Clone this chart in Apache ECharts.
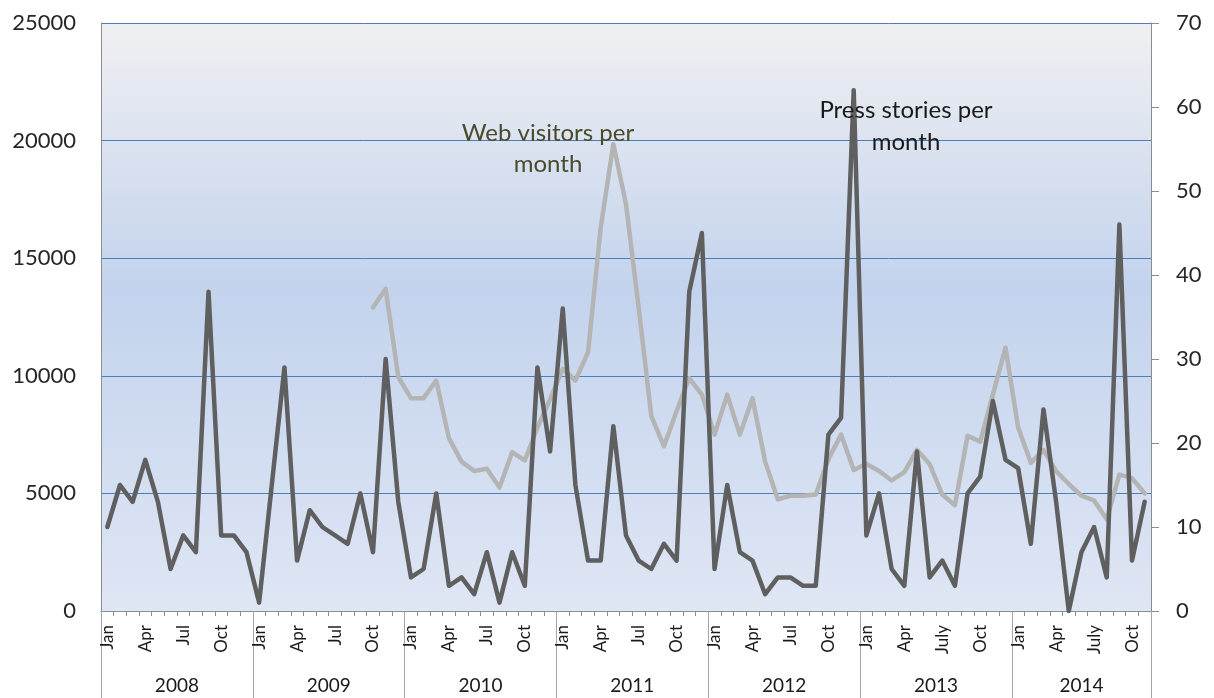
<!DOCTYPE html>
<html>
<head>
<meta charset="utf-8">
<script src="https://cdn.jsdelivr.net/npm/echarts@6/dist/echarts.min.js"></script>
<style>
html,body{margin:0;padding:0;background:#fff;}
#chart{width:1214px;height:698px;}
</style>
</head>
<body>
<div id="chart"></div>
<script>
// ---- Data ----
const years = ['2008', '2009', '2010', '2011', '2012', '2013', '2014'];
const monthsPerYear = [12, 12, 12, 12, 12, 12, 11];
const monthNames = ['Jan','Feb','Mar','Apr','May','Jun','Jul','Aug','Sep','Oct','Nov','Dec'];
const tickLabelsStd = ['Jan','','','Apr','','','Jul','','','Oct','',''];
const tickLabelsLate = ['Jan','','','Apr','','','July','','','Oct','',''];
const yearTickStyle = ['std','std','std','std','std','late','late'];

// Press stories per month (right axis), Jan 2008 - Nov 2014
const press2008 = [10, 15, 13, 18, 13, 5, 9, 7, 38, 9, 9, 7];
const press2009 = [1, 15, 29, 6, 12, 10, 9, 8, 14, 7, 30, 13];
const press2010 = [4, 5, 14, 3, 4, 2, 7, 1, 7, 3, 29, 19];
const press2011 = [36, 15, 6, 6, 22, 9, 6, 5, 8, 6, 38, 45];
const press2012 = [5, 15, 7, 6, 2, 4, 4, 3, 3, 21, 23, 62];
const press2013 = [9, 14, 5, 3, 19, 4, 6, 3, 14, 16, 25, 18];
const press2014 = [17, 8, 24, 13, 0, 7, 10, 4, 46, 6, 13];

// Web visitors per month (left axis); no data before Oct 2009
const web2008 = [null, null, null, null, null, null, null, null, null, null, null, null];
const web2009 = [null, null, null, null, null, null, null, null, null, 12900, 13700, 9950];
const web2010 = [9050, 9050, 9800, 7350, 6350, 5950, 6050, 5250, 6750, 6400, 7800, 9000];
const web2011 = [10300, 9800, 11000, 16300, 19850, 17300, 12900, 8300, 7000, 8500, 9900, 9200];
const web2012 = [7500, 9200, 7500, 9050, 6350, 4750, 4900, 4900, 4950, 6450, 7500, 6000];
const web2013 = [6250, 5950, 5550, 5900, 6850, 6250, 4950, 4500, 7450, 7200, 9200, 11200];
const web2014 = [7800, 6300, 6850, 5950, 5400, 4900, 4700, 3900, 5800, 5650, 5000];

const leftAxis = {min: 0, max: 25000, interval: 5000};
const rightAxis = {min: 0, max: 70, interval: 10};

const seriesNames = ['Web visitors per month', 'Press stories per month'];
const annotationWeb = 'Web visitors per\nmonth';
const annotationPress = 'Press stories per\nmonth';

// ---- Build ----
const pressData = [].concat(press2008, press2009, press2010, press2011, press2012, press2013, press2014);
const webData = [].concat(web2008, web2009, web2010, web2011, web2012, web2013, web2014);

const monthCats = [];
const monthTickLabels = [];
years.forEach((y, yi) => {
  const lab = yearTickStyle[yi] === 'late' ? tickLabelsLate : tickLabelsStd;
  for (let m = 0; m < monthsPerYear[yi]; m++) {
    monthCats.push(monthNames[m] + ' ' + y);
    monthTickLabels.push(lab[m]);
  }
});
const nMonths = monthCats.length;

// half-month boundary axis for year group labels and separators
const halfCats = [];
const halfLabels = [];
const yearBoundaries = new Set();
let start = 0;
years.forEach((y, yi) => {
  yearBoundaries.add(start * 2);
  const mid = start * 2 + monthsPerYear[yi];
  start += monthsPerYear[yi];
  halfLabels[mid] = y;
});
yearBoundaries.add(nMonths * 2);
for (let i = 0; i <= nMonths * 2; i++) {
  halfCats.push('h' + i);
  if (!halfLabels[i]) halfLabels[i] = '';
}

const FONT = 'Lato, "Open Sans", sans-serif';
const chart = echarts.init(document.getElementById('chart'), null, {renderer: 'canvas'});

const bg = new echarts.graphic.LinearGradient(0, 0, 0, 1, [
  {offset: 0, color: '#f0f0f2'},
  {offset: 0.45, color: '#c3d3ed'},
  {offset: 1, color: '#dfe6f4'}
]);

chart.setOption({
  animation: false,
  backgroundColor: '#ffffff',
  textStyle: {fontFamily: FONT},
  grid: {left: 101, right: 63, top: 23, bottom: 87, show: true, backgroundColor: bg, borderWidth: 0},
  xAxis: [
    {
      type: 'category',
      data: monthCats,
      boundaryGap: true,
      position: 'bottom',
      axisLine: {show: true, lineStyle: {color: '#8c8c8c', width: 1}},
      axisTick: {show: true, interval: 0, length: 5, lineStyle: {color: '#8c8c8c'}},
      axisLabel: {
        interval: (idx) => monthTickLabels[idx] !== '',
        formatter: (v, idx) => monthTickLabels[idx],
        rotate: 90,
        margin: 14,
        fontSize: 17,
        color: '#1a1a1a',
        fontFamily: FONT
      },
      splitLine: {show: false}
    },
    {
      type: 'category',
      data: halfCats,
      boundaryGap: false,
      position: 'bottom',
      axisLine: {show: false},
      axisTick: {show: true, interval: (idx) => yearBoundaries.has(idx), length: 87, lineStyle: {color: '#a6a6a6', width: 1}},
      axisLabel: {
        interval: (idx) => halfLabels[idx] !== '',
        formatter: (v, idx) => halfLabels[idx],
        margin: 65,
        fontSize: 19,
        color: '#1a1a1a',
        fontFamily: FONT
      },
      splitLine: {show: false}
    }
  ],
  yAxis: [
    {
      type: 'value',
      min: leftAxis.min, max: leftAxis.max, interval: leftAxis.interval,
      position: 'left',
      axisLine: {show: true, lineStyle: {color: '#8c8c8c'}},
      axisTick: {show: false},
      axisLabel: {fontSize: 22, color: '#262626', margin: 25, fontFamily: FONT, formatter: (v) => String(v)},
      splitLine: {show: true, lineStyle: {color: '#4a7ebb', width: 1}}
    },
    {
      type: 'value',
      min: rightAxis.min, max: rightAxis.max, interval: rightAxis.interval,
      position: 'right',
      axisLine: {show: true, lineStyle: {color: '#8c8c8c'}},
      axisTick: {show: true, length: 8, lineStyle: {color: '#8c8c8c'}},
      axisLabel: {fontSize: 22, color: '#262626', margin: 25, fontFamily: FONT, formatter: (v) => String(v)},
      splitLine: {show: false}
    }
  ],
  series: [
    {
      name: seriesNames[0],
      type: 'line',
      xAxisIndex: 0,
      yAxisIndex: 0,
      data: webData,
      showSymbol: false,
      symbol: 'none',
      connectNulls: false,
      lineStyle: {color: '#b4b4b4', width: 4.5, join: 'round', cap: 'round'},
      z: 2
    },
    {
      name: seriesNames[1],
      type: 'line',
      xAxisIndex: 0,
      yAxisIndex: 1,
      data: pressData,
      showSymbol: false,
      symbol: 'none',
      lineStyle: {color: '#5f5f5f', width: 4.5, join: 'round', cap: 'round'},
      z: 3
    }
  ],
  graphic: [
    {
      type: 'text', x: 548, y: 118, z: 10,
      style: {text: annotationWeb, align: 'center', textAlign: 'center', verticalAlign: 'top',
        font: '24px ' + FONT, lineHeight: 31, fill: '#4a4a2c'}
    },
    {
      type: 'text', x: 906, y: 94, z: 10,
      style: {text: annotationPress, align: 'center', textAlign: 'center', verticalAlign: 'top',
        font: '24px ' + FONT, lineHeight: 32, fill: '#1a1a1a'}
    }
  ]
});
</script>
</body>
</html>
